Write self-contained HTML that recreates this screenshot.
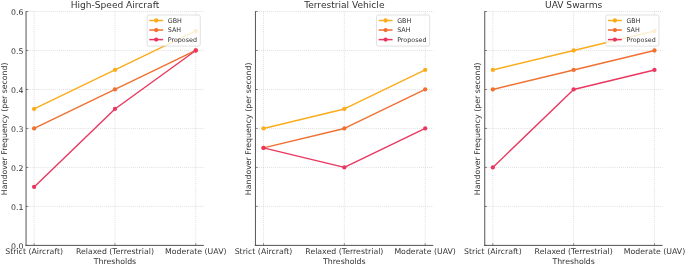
<!DOCTYPE html>
<html><head><meta charset="utf-8"><title>Handover Frequency</title>
<style>
html,body{margin:0;padding:0;background:#fff;}
svg{display:block;}
text{font-family:"DejaVu Sans","Liberation Sans",sans-serif;fill:#333333;}
.t{font-size:7.8px;}
.h{font-size:9.08px;}
.y{font-size:7.82px;}
.l{font-size:6.37px;}
</style></head><body>
<svg width="685" height="265" viewBox="0 0 685 265">
<rect width="685" height="265" fill="#fff"/>

<g>
<line x1="26.05" x2="203.85" y1="245.40" y2="245.40" stroke="#c0c0c0" stroke-width="0.65" stroke-dasharray="0.74 1.21"/>
<line x1="26.05" x2="203.85" y1="206.42" y2="206.42" stroke="#c0c0c0" stroke-width="0.65" stroke-dasharray="0.74 1.21"/>
<line x1="26.05" x2="203.85" y1="167.43" y2="167.43" stroke="#c0c0c0" stroke-width="0.65" stroke-dasharray="0.74 1.21"/>
<line x1="26.05" x2="203.85" y1="128.45" y2="128.45" stroke="#c0c0c0" stroke-width="0.65" stroke-dasharray="0.74 1.21"/>
<line x1="26.05" x2="203.85" y1="89.47" y2="89.47" stroke="#c0c0c0" stroke-width="0.65" stroke-dasharray="0.74 1.21"/>
<line x1="26.05" x2="203.85" y1="50.48" y2="50.48" stroke="#c0c0c0" stroke-width="0.65" stroke-dasharray="0.74 1.21"/>
<line x1="26.05" x2="203.85" y1="11.50" y2="11.50" stroke="#c0c0c0" stroke-width="0.65" stroke-dasharray="0.74 1.21"/>
<line x1="34.13" x2="34.13" y1="11.50" y2="245.40" stroke="#c0c0c0" stroke-width="0.65" stroke-dasharray="0.74 1.21"/>
<line x1="114.95" x2="114.95" y1="11.50" y2="245.40" stroke="#c0c0c0" stroke-width="0.65" stroke-dasharray="0.74 1.21"/>
<line x1="195.77" x2="195.77" y1="11.50" y2="245.40" stroke="#c0c0c0" stroke-width="0.65" stroke-dasharray="0.74 1.21"/>
<polyline points="34.13,108.96 114.95,69.97 195.77,30.99" fill="none" stroke="#FBAC1C" stroke-width="1.4" stroke-linejoin="round"/>
<circle cx="34.13" cy="108.96" r="2.15" fill="#FBAC1C"/>
<circle cx="114.95" cy="69.97" r="2.15" fill="#FBAC1C"/>
<circle cx="195.77" cy="30.99" r="2.15" fill="#FBAC1C"/>
<polyline points="34.13,128.45 114.95,89.47 195.77,50.48" fill="none" stroke="#F07030" stroke-width="1.4" stroke-linejoin="round"/>
<circle cx="34.13" cy="128.45" r="2.15" fill="#F07030"/>
<circle cx="114.95" cy="89.47" r="2.15" fill="#F07030"/>
<circle cx="195.77" cy="50.48" r="2.15" fill="#F07030"/>
<polyline points="34.13,186.93 114.95,108.96 195.77,50.48" fill="none" stroke="#E93760" stroke-width="1.4" stroke-linejoin="round"/>
<circle cx="34.13" cy="186.93" r="2.15" fill="#E93760"/>
<circle cx="114.95" cy="108.96" r="2.15" fill="#E93760"/>
<circle cx="195.77" cy="50.48" r="2.15" fill="#E93760"/>
<line x1="26.05" x2="28.25" y1="245.40" y2="245.40" stroke="#555555" stroke-width="0.7"/>
<text class="t" x="23.35" y="248.65" text-anchor="end">0.0</text>
<line x1="26.05" x2="28.25" y1="206.42" y2="206.42" stroke="#555555" stroke-width="0.7"/>
<text class="t" x="23.35" y="209.67" text-anchor="end">0.1</text>
<line x1="26.05" x2="28.25" y1="167.43" y2="167.43" stroke="#555555" stroke-width="0.7"/>
<text class="t" x="23.35" y="170.68" text-anchor="end">0.2</text>
<line x1="26.05" x2="28.25" y1="128.45" y2="128.45" stroke="#555555" stroke-width="0.7"/>
<text class="t" x="23.35" y="131.70" text-anchor="end">0.3</text>
<line x1="26.05" x2="28.25" y1="89.47" y2="89.47" stroke="#555555" stroke-width="0.7"/>
<text class="t" x="23.35" y="92.72" text-anchor="end">0.4</text>
<line x1="26.05" x2="28.25" y1="50.48" y2="50.48" stroke="#555555" stroke-width="0.7"/>
<text class="t" x="23.35" y="53.73" text-anchor="end">0.5</text>
<line x1="26.05" x2="28.25" y1="11.50" y2="11.50" stroke="#555555" stroke-width="0.7"/>
<text class="t" x="23.35" y="14.75" text-anchor="end">0.6</text>
<line x1="34.13" x2="34.13" y1="245.40" y2="243.30" stroke="#555555" stroke-width="0.7"/>
<text class="t" x="34.13" y="254.00" text-anchor="middle">Strict (Aircraft)</text>
<line x1="114.95" x2="114.95" y1="245.40" y2="243.30" stroke="#555555" stroke-width="0.7"/>
<text class="t" x="114.95" y="254.00" text-anchor="middle">Relaxed (Terrestrial)</text>
<line x1="195.77" x2="195.77" y1="245.40" y2="243.30" stroke="#555555" stroke-width="0.7"/>
<text class="t" x="195.77" y="254.00" text-anchor="middle">Moderate (UAV)</text>
<line x1="26.05" x2="26.05" y1="11.20" y2="246.00" stroke="#555555" stroke-width="1"/>
<line x1="25.45" x2="203.85" y1="245.40" y2="245.40" stroke="#555555" stroke-width="1"/>
<text class="h" x="114.95" y="7.7" text-anchor="middle">High-Speed Aircraft</text>
<text class="t" x="114.95" y="263.6" text-anchor="middle">Thresholds</text>
<text class="y" transform="translate(6.95,128.8) rotate(-90)" text-anchor="middle">Handover Frequency (per second)</text>
<rect x="147.15" y="15.00" width="53.1" height="31.1" rx="1.6" ry="1.6" fill="#fff" fill-opacity="0.8" stroke="#cccccc" stroke-width="0.6"/>
<line x1="149.25" x2="163.15" y1="20.50" y2="20.50" stroke="#FBAC1C" stroke-width="1.5"/>
<circle cx="156.20" cy="20.50" r="2.15" fill="#FBAC1C"/>
<text class="l" x="167.75" y="22.80">GBH</text>
<line x1="149.25" x2="163.15" y1="30.05" y2="30.05" stroke="#F07030" stroke-width="1.5"/>
<circle cx="156.20" cy="30.05" r="2.15" fill="#F07030"/>
<text class="l" x="167.75" y="32.35">SAH</text>
<line x1="149.25" x2="163.15" y1="39.60" y2="39.60" stroke="#E93760" stroke-width="1.5"/>
<circle cx="156.20" cy="39.60" r="2.15" fill="#E93760"/>
<text class="l" x="167.75" y="41.90">Proposed</text>
</g>
<g>
<line x1="255.45" x2="433.25" y1="245.40" y2="245.40" stroke="#c0c0c0" stroke-width="0.65" stroke-dasharray="0.74 1.21"/>
<line x1="255.45" x2="433.25" y1="206.42" y2="206.42" stroke="#c0c0c0" stroke-width="0.65" stroke-dasharray="0.74 1.21"/>
<line x1="255.45" x2="433.25" y1="167.43" y2="167.43" stroke="#c0c0c0" stroke-width="0.65" stroke-dasharray="0.74 1.21"/>
<line x1="255.45" x2="433.25" y1="128.45" y2="128.45" stroke="#c0c0c0" stroke-width="0.65" stroke-dasharray="0.74 1.21"/>
<line x1="255.45" x2="433.25" y1="89.47" y2="89.47" stroke="#c0c0c0" stroke-width="0.65" stroke-dasharray="0.74 1.21"/>
<line x1="255.45" x2="433.25" y1="50.48" y2="50.48" stroke="#c0c0c0" stroke-width="0.65" stroke-dasharray="0.74 1.21"/>
<line x1="255.45" x2="433.25" y1="11.50" y2="11.50" stroke="#c0c0c0" stroke-width="0.65" stroke-dasharray="0.74 1.21"/>
<line x1="263.53" x2="263.53" y1="11.50" y2="245.40" stroke="#c0c0c0" stroke-width="0.65" stroke-dasharray="0.74 1.21"/>
<line x1="344.35" x2="344.35" y1="11.50" y2="245.40" stroke="#c0c0c0" stroke-width="0.65" stroke-dasharray="0.74 1.21"/>
<line x1="425.17" x2="425.17" y1="11.50" y2="245.40" stroke="#c0c0c0" stroke-width="0.65" stroke-dasharray="0.74 1.21"/>
<polyline points="263.53,128.45 344.35,108.96 425.17,69.97" fill="none" stroke="#FBAC1C" stroke-width="1.4" stroke-linejoin="round"/>
<circle cx="263.53" cy="128.45" r="2.15" fill="#FBAC1C"/>
<circle cx="344.35" cy="108.96" r="2.15" fill="#FBAC1C"/>
<circle cx="425.17" cy="69.97" r="2.15" fill="#FBAC1C"/>
<polyline points="263.53,147.94 344.35,128.45 425.17,89.47" fill="none" stroke="#F07030" stroke-width="1.4" stroke-linejoin="round"/>
<circle cx="263.53" cy="147.94" r="2.15" fill="#F07030"/>
<circle cx="344.35" cy="128.45" r="2.15" fill="#F07030"/>
<circle cx="425.17" cy="89.47" r="2.15" fill="#F07030"/>
<polyline points="263.53,147.94 344.35,167.43 425.17,128.45" fill="none" stroke="#E93760" stroke-width="1.4" stroke-linejoin="round"/>
<circle cx="263.53" cy="147.94" r="2.15" fill="#E93760"/>
<circle cx="344.35" cy="167.43" r="2.15" fill="#E93760"/>
<circle cx="425.17" cy="128.45" r="2.15" fill="#E93760"/>
<line x1="255.45" x2="257.65" y1="245.40" y2="245.40" stroke="#555555" stroke-width="0.7"/>
<line x1="255.45" x2="257.65" y1="206.42" y2="206.42" stroke="#555555" stroke-width="0.7"/>
<line x1="255.45" x2="257.65" y1="167.43" y2="167.43" stroke="#555555" stroke-width="0.7"/>
<line x1="255.45" x2="257.65" y1="128.45" y2="128.45" stroke="#555555" stroke-width="0.7"/>
<line x1="255.45" x2="257.65" y1="89.47" y2="89.47" stroke="#555555" stroke-width="0.7"/>
<line x1="255.45" x2="257.65" y1="50.48" y2="50.48" stroke="#555555" stroke-width="0.7"/>
<line x1="255.45" x2="257.65" y1="11.50" y2="11.50" stroke="#555555" stroke-width="0.7"/>
<line x1="263.53" x2="263.53" y1="245.40" y2="243.30" stroke="#555555" stroke-width="0.7"/>
<text class="t" x="263.53" y="254.00" text-anchor="middle">Strict (Aircraft)</text>
<line x1="344.35" x2="344.35" y1="245.40" y2="243.30" stroke="#555555" stroke-width="0.7"/>
<text class="t" x="344.35" y="254.00" text-anchor="middle">Relaxed (Terrestrial)</text>
<line x1="425.17" x2="425.17" y1="245.40" y2="243.30" stroke="#555555" stroke-width="0.7"/>
<text class="t" x="425.17" y="254.00" text-anchor="middle">Moderate (UAV)</text>
<line x1="255.45" x2="255.45" y1="11.20" y2="246.00" stroke="#555555" stroke-width="1"/>
<line x1="254.85" x2="433.25" y1="245.40" y2="245.40" stroke="#555555" stroke-width="1"/>
<text class="h" x="344.35" y="7.7" text-anchor="middle">Terrestrial Vehicle</text>
<text class="t" x="344.35" y="263.6" text-anchor="middle">Thresholds</text>
<text class="y" transform="translate(250.85,128.8) rotate(-90)" text-anchor="middle">Handover Frequency (per second)</text>
<rect x="376.55" y="15.00" width="53.1" height="31.1" rx="1.6" ry="1.6" fill="#fff" fill-opacity="0.8" stroke="#cccccc" stroke-width="0.6"/>
<line x1="378.65" x2="392.55" y1="20.50" y2="20.50" stroke="#FBAC1C" stroke-width="1.5"/>
<circle cx="385.60" cy="20.50" r="2.15" fill="#FBAC1C"/>
<text class="l" x="397.15" y="22.80">GBH</text>
<line x1="378.65" x2="392.55" y1="30.05" y2="30.05" stroke="#F07030" stroke-width="1.5"/>
<circle cx="385.60" cy="30.05" r="2.15" fill="#F07030"/>
<text class="l" x="397.15" y="32.35">SAH</text>
<line x1="378.65" x2="392.55" y1="39.60" y2="39.60" stroke="#E93760" stroke-width="1.5"/>
<circle cx="385.60" cy="39.60" r="2.15" fill="#E93760"/>
<text class="l" x="397.15" y="41.90">Proposed</text>
</g>
<g>
<line x1="484.75" x2="662.55" y1="245.40" y2="245.40" stroke="#c0c0c0" stroke-width="0.65" stroke-dasharray="0.74 1.21"/>
<line x1="484.75" x2="662.55" y1="206.42" y2="206.42" stroke="#c0c0c0" stroke-width="0.65" stroke-dasharray="0.74 1.21"/>
<line x1="484.75" x2="662.55" y1="167.43" y2="167.43" stroke="#c0c0c0" stroke-width="0.65" stroke-dasharray="0.74 1.21"/>
<line x1="484.75" x2="662.55" y1="128.45" y2="128.45" stroke="#c0c0c0" stroke-width="0.65" stroke-dasharray="0.74 1.21"/>
<line x1="484.75" x2="662.55" y1="89.47" y2="89.47" stroke="#c0c0c0" stroke-width="0.65" stroke-dasharray="0.74 1.21"/>
<line x1="484.75" x2="662.55" y1="50.48" y2="50.48" stroke="#c0c0c0" stroke-width="0.65" stroke-dasharray="0.74 1.21"/>
<line x1="484.75" x2="662.55" y1="11.50" y2="11.50" stroke="#c0c0c0" stroke-width="0.65" stroke-dasharray="0.74 1.21"/>
<line x1="492.83" x2="492.83" y1="11.50" y2="245.40" stroke="#c0c0c0" stroke-width="0.65" stroke-dasharray="0.74 1.21"/>
<line x1="573.65" x2="573.65" y1="11.50" y2="245.40" stroke="#c0c0c0" stroke-width="0.65" stroke-dasharray="0.74 1.21"/>
<line x1="654.47" x2="654.47" y1="11.50" y2="245.40" stroke="#c0c0c0" stroke-width="0.65" stroke-dasharray="0.74 1.21"/>
<polyline points="492.83,69.97 573.65,50.48 654.47,30.99" fill="none" stroke="#FBAC1C" stroke-width="1.4" stroke-linejoin="round"/>
<circle cx="492.83" cy="69.97" r="2.15" fill="#FBAC1C"/>
<circle cx="573.65" cy="50.48" r="2.15" fill="#FBAC1C"/>
<circle cx="654.47" cy="30.99" r="2.15" fill="#FBAC1C"/>
<polyline points="492.83,89.47 573.65,69.97 654.47,50.48" fill="none" stroke="#F07030" stroke-width="1.4" stroke-linejoin="round"/>
<circle cx="492.83" cy="89.47" r="2.15" fill="#F07030"/>
<circle cx="573.65" cy="69.97" r="2.15" fill="#F07030"/>
<circle cx="654.47" cy="50.48" r="2.15" fill="#F07030"/>
<polyline points="492.83,167.43 573.65,89.47 654.47,69.97" fill="none" stroke="#E93760" stroke-width="1.4" stroke-linejoin="round"/>
<circle cx="492.83" cy="167.43" r="2.15" fill="#E93760"/>
<circle cx="573.65" cy="89.47" r="2.15" fill="#E93760"/>
<circle cx="654.47" cy="69.97" r="2.15" fill="#E93760"/>
<line x1="484.75" x2="486.95" y1="245.40" y2="245.40" stroke="#555555" stroke-width="0.7"/>
<line x1="484.75" x2="486.95" y1="206.42" y2="206.42" stroke="#555555" stroke-width="0.7"/>
<line x1="484.75" x2="486.95" y1="167.43" y2="167.43" stroke="#555555" stroke-width="0.7"/>
<line x1="484.75" x2="486.95" y1="128.45" y2="128.45" stroke="#555555" stroke-width="0.7"/>
<line x1="484.75" x2="486.95" y1="89.47" y2="89.47" stroke="#555555" stroke-width="0.7"/>
<line x1="484.75" x2="486.95" y1="50.48" y2="50.48" stroke="#555555" stroke-width="0.7"/>
<line x1="484.75" x2="486.95" y1="11.50" y2="11.50" stroke="#555555" stroke-width="0.7"/>
<line x1="492.83" x2="492.83" y1="245.40" y2="243.30" stroke="#555555" stroke-width="0.7"/>
<text class="t" x="492.83" y="254.00" text-anchor="middle">Strict (Aircraft)</text>
<line x1="573.65" x2="573.65" y1="245.40" y2="243.30" stroke="#555555" stroke-width="0.7"/>
<text class="t" x="573.65" y="254.00" text-anchor="middle">Relaxed (Terrestrial)</text>
<line x1="654.47" x2="654.47" y1="245.40" y2="243.30" stroke="#555555" stroke-width="0.7"/>
<text class="t" x="654.47" y="254.00" text-anchor="middle">Moderate (UAV)</text>
<line x1="484.75" x2="484.75" y1="11.20" y2="246.00" stroke="#555555" stroke-width="1"/>
<line x1="484.15" x2="662.55" y1="245.40" y2="245.40" stroke="#555555" stroke-width="1"/>
<text class="h" x="573.65" y="7.7" text-anchor="middle">UAV Swarms</text>
<text class="t" x="573.65" y="263.6" text-anchor="middle">Thresholds</text>
<text class="y" transform="translate(480.15,128.8) rotate(-90)" text-anchor="middle">Handover Frequency (per second)</text>
<rect x="605.85" y="15.00" width="53.1" height="31.1" rx="1.6" ry="1.6" fill="#fff" fill-opacity="0.8" stroke="#cccccc" stroke-width="0.6"/>
<line x1="607.95" x2="621.85" y1="20.50" y2="20.50" stroke="#FBAC1C" stroke-width="1.5"/>
<circle cx="614.90" cy="20.50" r="2.15" fill="#FBAC1C"/>
<text class="l" x="626.45" y="22.80">GBH</text>
<line x1="607.95" x2="621.85" y1="30.05" y2="30.05" stroke="#F07030" stroke-width="1.5"/>
<circle cx="614.90" cy="30.05" r="2.15" fill="#F07030"/>
<text class="l" x="626.45" y="32.35">SAH</text>
<line x1="607.95" x2="621.85" y1="39.60" y2="39.60" stroke="#E93760" stroke-width="1.5"/>
<circle cx="614.90" cy="39.60" r="2.15" fill="#E93760"/>
<text class="l" x="626.45" y="41.90">Proposed</text>
</g>
</svg>
</body></html>
